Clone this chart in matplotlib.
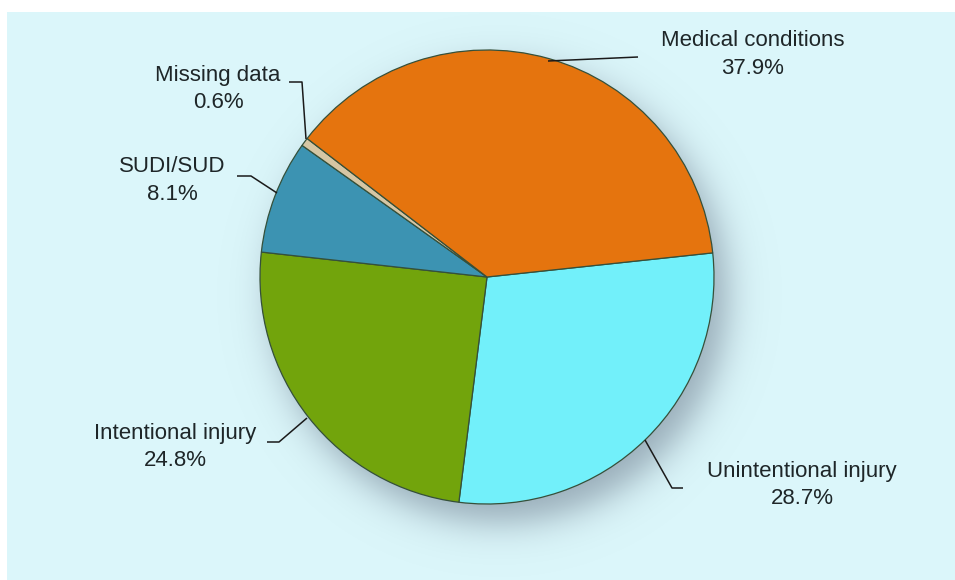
import numpy as np
import matplotlib
matplotlib.use("Agg")
import matplotlib.pyplot as plt
from matplotlib.patches import Rectangle

W, H = 955, 580

# clockwise from the right-hand side
categories = ["Unintentional injury", "Intentional injury", "SUDI/SUD",
              "Missing data", "Medical conditions"]
shares = [28.7, 24.8, 8.1, 0.6, 37.9]
colors = ["#72F0FA", "#72A40C", "#3C93B2", "#D6C6A4", "#E5740E"]

# label text centre (x, first line y) and leader polyline, in pixel space
label_pos = {
    "Medical conditions": (753, 41),
    "Missing data": (218, 75),
    "SUDI/SUD": (172, 167),
    "Intentional injury": (175, 434),
    "Unintentional injury": (802, 472),
}
leaders = {
    "Medical conditions": [(548, 61), (638, 57)],
    "Missing data": [(289, 82), (302, 82), (306, 139)],
    "SUDI/SUD": [(237, 176), (251, 176), (277, 193)],
    "Intentional injury": [(267, 442), (279, 442), (307, 418)],
    "Unintentional injury": [(645, 440), (672, 488), (683, 488)],
}

CX, CY, R = 487, 277, 227


def px(x, y):
    return x, H - y


fig = plt.figure(figsize=(W / 100, H / 100), dpi=100)
fig.patch.set_facecolor("white")
ax = fig.add_axes([0, 0, 1, 1])
ax.set_xlim(0, W)
ax.set_ylim(0, H)
ax.set_aspect("equal")
ax.axis("off")

# light panel
ax.add_patch(Rectangle(px(7, H), W - 7, H - 12, facecolor="#DBF6FA",
                       edgecolor="none", zorder=0))

# soft drop shadow under the pie
xx, yy = np.meshgrid(np.arange(W) + 0.5, np.arange(H) + 0.5)
d = np.hypot(xx - (CX + 12), yy - (CY + 18)) - R
alpha = 0.6 / (1 + np.exp(d / 11.0))
shadow = np.zeros((H, W, 4))
shadow[..., 0] = 0.42
shadow[..., 1] = 0.48
shadow[..., 2] = 0.55
shadow[..., 3] = alpha
ax.imshow(shadow, extent=(0, W, 0, H), origin="upper", zorder=1,
          interpolation="bilinear")

wedges, _ = ax.pie(shares, colors=colors, startangle=6.1, counterclock=False,
                   center=px(CX, CY), radius=R, frame=True,
                   wedgeprops=dict(edgecolor="#35503A", linewidth=0.9))
for w in wedges:
    w.set_zorder(2)
ax.set_xlim(0, W)
ax.set_ylim(0, H)
ax.axis("off")

font = ["Liberation Sans Narrow", "Liberation Sans", "DejaVu Sans"]
for name, share in zip(categories, shares):
    x, y = label_pos[name]
    ax.text(*px(x, y), name, ha="center", va="center", fontsize=16,
            family=font, color="#1E2628", zorder=4)
    ax.text(*px(x, y + 27), f"{share}%", ha="center", va="center",
            fontsize=16, family=font, color="#1E2628", zorder=4)
    pts = [px(a, b) for a, b in leaders[name]]
    ax.plot([p[0] for p in pts], [p[1] for p in pts], color="#1A1A1A",
            lw=1.1, zorder=3, solid_capstyle="butt")

fig.savefig("out.png", dpi=100, facecolor=fig.get_facecolor())
